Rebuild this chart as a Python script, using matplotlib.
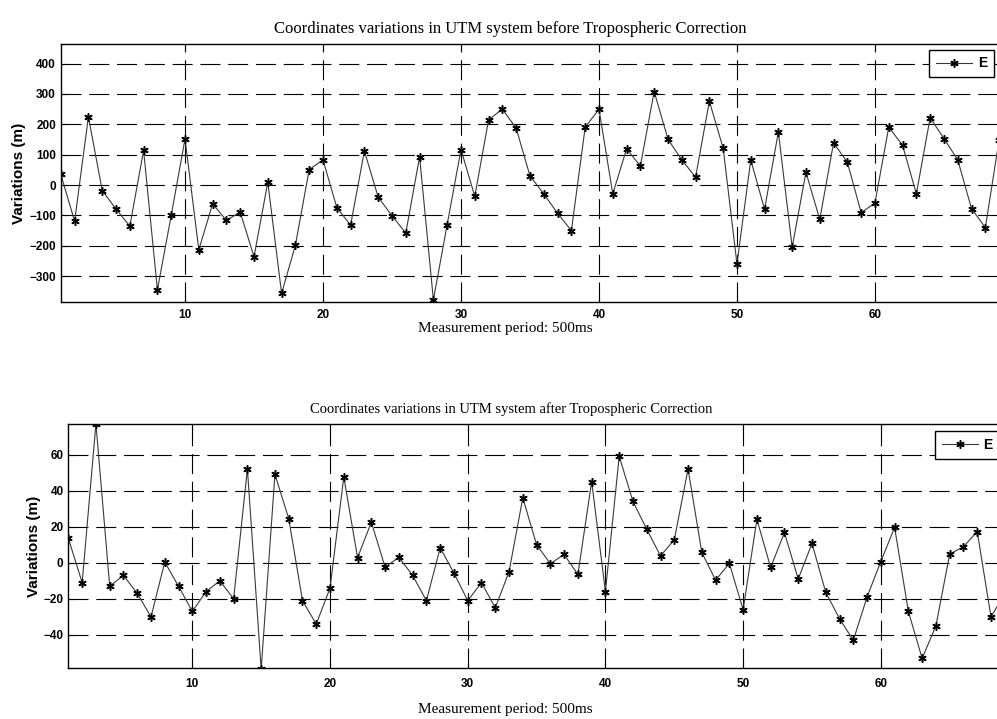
import matplotlib
matplotlib.use("Agg")
import matplotlib.pyplot as plt
import numpy as np

# measurement index (500 ms epochs)
epochs = np.arange(1, 70)

# E variations before tropospheric correction (m)
e_before = [35, -119, 225, -18, -79, -135, 114, -345, -100, 152,
            -213, -62, -116, -89, -236, 9, -357, -198, 51, 83,
            -74, -132, 112, -40, -101, -158, 93, -378, -130, 117,
            -37, 215, 250, 187, 30, -29, -93, -150, 190, 250,
            -29, 119, 63, 308, 151, 83, 26, 276, 121, -260,
            83, -80, 175, -205, 42, -113, 139, 75, -91, -59,
            191, 131, -29, 222, 153, 83, -78, -140, 150]

# E variations after tropospheric correction (m)
e_after = [13.5, -11, 77, -13, -7, -17, -30, 0.4, -13, -27,
           -16, -10, -20, 52, -59, 49, 24.5, -21, -34, -14,
           47.6, 2.8, 22.5, -2.4, 3, -7, -21, 8.3, -5.7, -21,
           -11, -25, -5, 36, 10, -0.5, 4.6, -6.5, 45, -16,
           59, 34, 18.6, 3.8, 12.7, 52, 5.7, -9.6, -0.4, -26,
           24, -2.6, 16.8, -9, 10.7, -16.4, -31, -43, -19, 0.7,
           19.6, -27, -53, -35, 4.8, 8.9, 17.3, -30, -17]

top_yticks = [-300, -200, -100, 0, 100, 200, 300, 400]
bot_yticks = [-40, -20, 0, 20, 40, 60]
xticks = [10, 20, 30, 40, 50, 60]

SERIF = ["Liberation Serif", "DejaVu Serif"]
SANS = ["Liberation Sans", "DejaVu Sans"]

fig = plt.figure(figsize=(9.97, 7.19), dpi=100)
ax1 = fig.add_axes([0.061, 0.580, 0.955, 0.359])
ax2 = fig.add_axes([0.0686, 0.0705, 0.953, 0.340])


def style_axis(ax, y, yticks, ylim, title, title_size, tx, lx, tpad, xpad, leg_anchor):
    ax.plot(epochs, y, "-", color="#3a3a3a", linewidth=0.8,
            marker=(6, 2, 0), markersize=6, markeredgewidth=1.1,
            markerfacecolor="black", markeredgecolor="black", label="E")
    ax.set_xlim(1, 70)
    ax.set_ylim(*ylim)
    ax.set_xticks(xticks)
    ax.set_yticks(yticks)
    ax.grid(True, color="black", linestyle=(0, (18, 7)), linewidth=0.8)
    ax.tick_params(direction="in", length=4, labelsize=8.5, top=True, right=True)
    ax.tick_params(axis="x", pad=tpad)
    for lab in ax.get_xticklabels() + ax.get_yticklabels():
        lab.set_fontweight("bold")
        lab.set_family(SANS)
    for sp in ax.spines.values():
        sp.set_linewidth(1.0)
    ax.set_title(title, family=SERIF, fontsize=title_size, x=tx, pad=8)
    ax.set_xlabel("Measurement period: 500ms", family=SERIF, fontsize=11, x=lx,
                  labelpad=xpad)
    ax.set_ylabel("Variations (m)", family=SANS, fontweight="bold", fontsize=11,
                  labelpad=2)
    leg = ax.legend(loc="upper right", bbox_to_anchor=leg_anchor,
                    fancybox=False, framealpha=1, edgecolor="black",
                    handlelength=2.6, borderpad=0.5, handletextpad=0.4,
                    borderaxespad=0,
                    prop={"family": SANS, "weight": "bold", "size": 10})
    leg.get_frame().set_linewidth(1.0)


style_axis(ax1, e_before, top_yticks, (-385, 465),
           "Coordinates variations in UTM system before Tropospheric Correction",
           12, 0.472, 0.467, 5, 1, (0.980, 0.978))
style_axis(ax2, e_after, bot_yticks, (-58.5, 77),
           "Coordinates variations in UTM system after Tropospheric Correction",
           10.5, 0.466, 0.46, 7, 9, (0.980, 0.971))

fig.savefig("out.png", dpi=100)
